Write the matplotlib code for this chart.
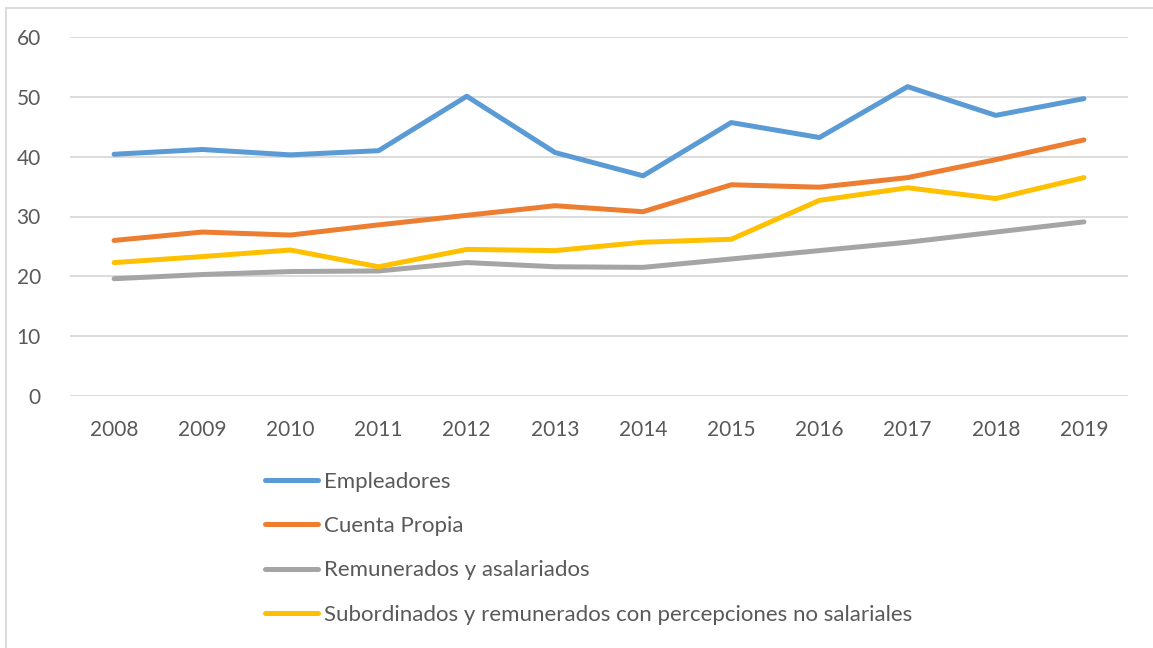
import matplotlib
matplotlib.use("Agg")
import matplotlib.pyplot as plt
from matplotlib.lines import Line2D

years = ["2008", "2009", "2010", "2011", "2012", "2013", "2014", "2015", "2016", "2017", "2018", "2019"]
empleadores = [40.4, 41.2, 40.3, 41.0, 50.1, 40.7, 36.8, 45.7, 43.2, 51.7, 46.9, 49.7]
cuenta_propia = [26.0, 27.4, 26.9, 28.6, 30.2, 31.8, 30.8, 35.3, 34.9, 36.5, 39.5, 42.8]
remunerados = [19.6, 20.3, 20.8, 20.9, 22.3, 21.6, 21.5, 22.9, 24.3, 25.7, 27.4, 29.1]
subordinados = [22.3, 23.3, 24.4, 21.6, 24.5, 24.3, 25.7, 26.2, 32.7, 34.8, 33.0, 36.5]
labels = ["Empleadores", "Cuenta Propia", "Remunerados y asalariados",
          "Subordinados y remunerados con percepciones no salariales"]
colors = ["#5B9BD5", "#ED7D31", "#A5A5A5", "#FFC000"]
y_ticks = [0, 10, 20, 30, 40, 50, 60]

plt.rcParams['font.family'] = ['Lato', 'DejaVu Sans']
W, H = 1153, 648
fig = plt.figure(figsize=(W / 100, H / 100), dpi=100)
fig.patch.set_facecolor("white")
# outer frame: only top and left edges visible
fig.add_artist(Line2D([5.5 / W, 1.0], [1 - 7.5 / H, 1 - 7.5 / H],
                      transform=fig.transFigure, color="#D9D9D9", linewidth=1.3))
fig.add_artist(Line2D([5.5 / W, 5.5 / W], [0, 1 - 7.5 / H],
                      transform=fig.transFigure, color="#D9D9D9", linewidth=1.3))

ax = fig.add_axes([70 / W, (H - 396) / H, (1128 - 70) / W, (396 - 37) / H])
x = list(range(len(years)))
series = [empleadores, cuenta_propia, remunerados, subordinados]
lines = []
for vals, lab, col in zip(series, labels, colors):
    ln, = ax.plot(x, vals, color=col, linewidth=3.6, label=lab,
                  solid_capstyle="round", solid_joinstyle="round", zorder=3)
    lines.append(ln)

ax.set_xlim(-0.5, len(years) - 0.5)
ax.set_ylim(0, 60)
ax.set_yticks(y_ticks)
ax.set_xticks(x)
ax.set_xticklabels(years)
ax.grid(axis="y", color="#D9D9D9", linewidth=1.3, zorder=0)
for s in ax.spines.values():
    s.set_visible(False)
ax.tick_params(axis="both", length=0, labelsize=15, colors="#595959")
ax.tick_params(axis="x", pad=17)
ax.tick_params(axis="y", pad=21)

fig.legend(handles=lines, labels=labels, loc="upper left",
           bbox_to_anchor=(256 / W, (H - 463) / H), frameon=False,
           fontsize=16, labelcolor="#595959", handlelength=2.4,
           handletextpad=0.28, labelspacing=1.09, borderaxespad=0)

fig.savefig("out.png", dpi=100)
